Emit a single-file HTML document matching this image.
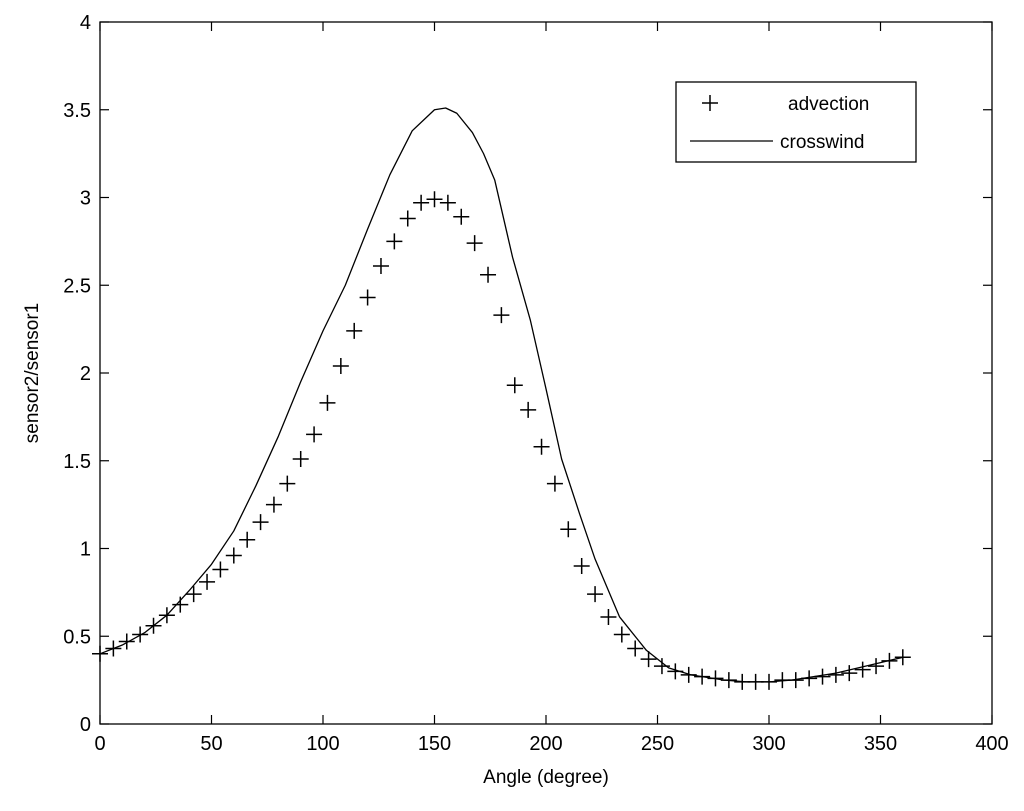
<!DOCTYPE html>
<html><head><meta charset="utf-8"><style>
html,body{margin:0;padding:0;background:#fff;}
svg{display:block;font-family:"Liberation Sans",Arial,sans-serif;}
</style></head><body>
<svg id="chart" width="1024" height="811" viewBox="0 0 1024 811" xmlns="http://www.w3.org/2000/svg">
<rect x="0" y="0" width="1024" height="811" fill="#fff"/>
<g id="axes"></g>
<g id="series"></g>
<g id="legend">
  <rect x="676" y="82" width="240" height="80" fill="#fff" stroke="#000" stroke-width="1.3"/>
  <g>
    <path d="M702 103 h16 M710 95 v16" stroke="#000" stroke-width="1.5"/>
    <text x="788" y="110" font-size="19">advection</text>
  </g>
  <g>
    <line x1="690" y1="141" x2="773" y2="141" stroke="#000" stroke-width="1.3"/>
    <text x="780" y="148" font-size="19">crosswind</text>
  </g>
</g>
</svg>
<script>
const xTicks=[0,50,100,150,200,250,300,350,400];
const yTicks=[0,0.5,1,1.5,2,2.5,3,3.5,4];
const yTickLabels=["0","0.5","1","1.5","2","2.5","3","3.5","4"];
const advAngles=[0,6,12,18,24,30,36,42,48,54,60,66,72,78,84,90,96,102,108,114,120,126,132,138,144,150,156,162,168,174,180,186,192,198,204,210,216,222,228,234,240,246,252,258,264,270,276,282,288,294,300,306,312,318,324,330,336,342,348,354,360];
const advValues=[0.40,0.43,0.47,0.51,0.56,0.62,0.68,0.74,0.81,0.88,0.96,1.05,1.15,1.25,1.37,1.51,1.65,1.83,2.04,2.24,2.43,2.61,2.75,2.88,2.97,2.99,2.97,2.89,2.74,2.56,2.33,1.93,1.79,1.58,1.37,1.11,0.90,0.74,0.61,0.51,0.43,0.37,0.33,0.30,0.28,0.27,0.26,0.25,0.24,0.24,0.24,0.25,0.25,0.26,0.27,0.28,0.29,0.31,0.33,0.36,0.38];
const crossAngles=[0,10,20,30,40,50,60,70,80,90,100,110,120,130,140,150,155,160,167,172,177,185,193,200,207,215,222,233,245,255,265,280,290,300,310,320,330,340,350,360];
const crossValues=[0.40,0.45,0.52,0.62,0.76,0.91,1.10,1.36,1.64,1.95,2.24,2.50,2.82,3.13,3.38,3.50,3.51,3.48,3.37,3.25,3.10,2.66,2.30,1.91,1.51,1.20,0.94,0.61,0.42,0.32,0.28,0.25,0.24,0.24,0.25,0.27,0.29,0.32,0.35,0.38];
const X0=100,X1=992,Y0=724,Y1=22;
const xs=v=>X0+(v-0)/(400-0)*(X1-X0);
const ys=v=>Y0-(v-0)/(4-0)*(Y0-Y1);
const NS="http://www.w3.org/2000/svg";
function mk(t,a,p){const e=document.createElementNS(NS,t);for(const k in a)e.setAttribute(k,a[k]);p.appendChild(e);return e;}
const axes=document.getElementById('axes');
const frame=mk('rect',{x:X0,y:Y1,width:X1-X0,height:Y0-Y1,fill:'none',stroke:'#000','stroke-width':1.3},axes);


xTicks.forEach(t=>{const x=xs(t);
 mk('line',{x1:x,y1:Y0,x2:x,y2:Y0-9,stroke:'#000','stroke-width':1.2},axes);
 mk('line',{x1:x,y1:Y1,x2:x,y2:Y1+9,stroke:'#000','stroke-width':1.2},axes);
 const tx=mk('text',{x:x,y:Y0+26,'font-size':20,'text-anchor':'middle'},axes);tx.textContent=String(t);
 
 
});
yTicks.forEach((t,i)=>{const y=ys(t);
 mk('line',{x1:X0,y1:y,x2:X0+9,y2:y,stroke:'#000','stroke-width':1.2},axes);
 mk('line',{x1:X1,y1:y,x2:X1-9,y2:y,stroke:'#000','stroke-width':1.2},axes);
 const tx=mk('text',{x:X0-9,y:y+7,'font-size':20,'text-anchor':'end'},axes);tx.textContent=yTickLabels[i];
 
 
});
const xl=mk('text',{x:(X0+X1)/2,y:783,'font-size':19,'text-anchor':'middle'},axes);xl.textContent='Angle (degree)';


const yl=mk('text',{x:38,y:(Y0+Y1)/2,'font-size':19,'text-anchor':'middle',transform:`rotate(-90 38 ${(Y0+Y1)/2})`},axes);yl.textContent='sensor2/sensor1';


const ser=document.getElementById('series');
const line=mk('polyline',{points:crossAngles.map((a,i)=>xs(a)+','+ys(crossValues[i])).join(' '),fill:'none',stroke:'#000','stroke-width':1.3,'stroke-linejoin':'round'},ser);


advAngles.forEach((a,i)=>{const x=xs(a),y=ys(advValues[i]);
 const p=mk('path',{d:`M${x-8} ${y} h16 M${x} ${y-8} v16`,stroke:'#000','stroke-width':1.5},ser);
 
 
});
</script>
</body></html>
